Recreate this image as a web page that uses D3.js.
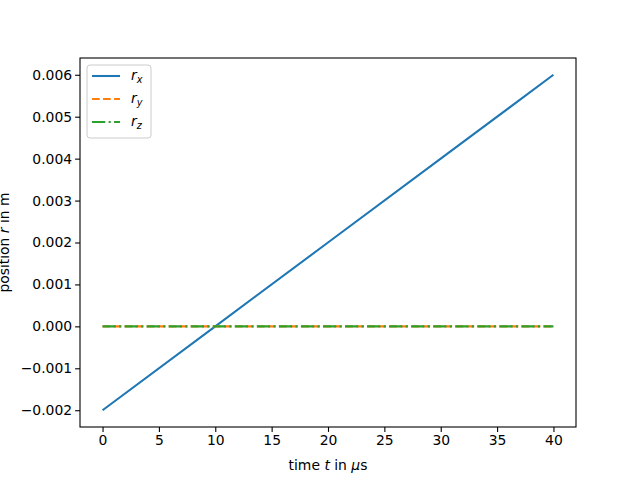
<!DOCTYPE html>
<html>
<head>
<meta charset="utf-8">
<script src="https://cdn.jsdelivr.net/npm/d3@7"></script>
<style>
  body { margin: 0; background: #fff; }
  svg { font-family: "DejaVu Sans", sans-serif; }
</style>
</head>
<body>
<svg id="chart" width="640" height="480"></svg>
<script>
const width = 640;
const height = 480;
const margin = { top: 58, right: 64, bottom: 53, left: 80 };

// time in microseconds and position components in m
const time = [0, 10, 20, 30, 40];
const rx = [-0.002, 0.0, 0.002, 0.004, 0.006];
const ry = [0, 0, 0, 0, 0];
const rz = [0, 0, 0, 0, 0];
const xTicks = [0, 5, 10, 15, 20, 25, 30, 35, 40];
const yTicks = [-0.002, -0.001, 0, 0.001, 0.002, 0.003, 0.004, 0.005, 0.006];

const series = [
    { name: "x", values: rx, color: "#1f77b4", dash: null },
    { name: "y", values: ry, color: "#ff7f0e", dash: "7.7,3.33" },
    { name: "z", values: rz, color: "#2ca02c", dash: "13.3,3.33,2.08,3.33" }
];

const svg = d3.select("#chart");
const innerW = width - margin.left - margin.right;
const innerH = height - margin.top - margin.bottom;

const x = d3.scaleLinear().domain([-2, 42]).range([0, innerW]);
const y = d3.scaleLinear().domain([-0.0024, 0.0064]).range([innerH, 0]);

const g = svg.append("g")
    .attr("transform", `translate(${margin.left}, ${margin.top})`);

// axes
const fmtY = v => d3.format(".3f")(v).replace("-", "\u2212");
const xAxis = d3.axisBottom(x).tickValues(xTicks).tickSize(4.9).tickPadding(3).tickFormat(d3.format("d"));
const yAxis = d3.axisLeft(y).tickValues(yTicks).tickSize(4.9).tickPadding(3).tickFormat(fmtY);

g.append("g")
    .attr("transform", `translate(0, ${innerH})`)
    .call(xAxis)
    .call(s => s.select(".domain").remove());

g.append("g")
    .call(yAxis)
    .call(s => s.select(".domain").remove());

g.selectAll(".tick line").attr("stroke", "#000").attr("stroke-width", 1.1);
g.selectAll(".tick text").attr("fill", "#000").attr("font-size", "13.9px")
    .attr("font-family", "DejaVu Sans");

// lines
const line = d3.line()
    .x((d, i) => x(time[i]))
    .y(d => y(d));

g.append("g")
    .selectAll("path")
    .data(series)
    .enter()
    .append("path")
    .attr("d", d => line(d.values))
    .attr("fill", "none")
    .attr("stroke", d => d.color)
    .attr("stroke-width", 2.08)
    .attr("stroke-dasharray", d => d.dash);

// frame
g.append("rect")
    .attr("width", innerW)
    .attr("height", innerH)
    .attr("fill", "none")
    .attr("stroke", "#000")
    .attr("stroke-width", 1.1);

// axis labels
const xl = svg.append("text")
    .attr("x", margin.left + innerW / 2)
    .attr("y", 470)
    .attr("text-anchor", "middle")
    .attr("font-size", "13.9px");
xl.append("tspan").text("time ");
xl.append("tspan").attr("font-style", "italic").text("t");
xl.append("tspan").text(" in ");
xl.append("tspan").attr("font-style", "italic").text("\u03bc");
xl.append("tspan").text("s");

const yl = svg.append("text")
    .attr("transform", `translate(9, ${margin.top + innerH / 2}) rotate(-90)`)
    .attr("text-anchor", "middle")
    .attr("font-size", "13.9px");
yl.append("tspan").text("position ");
yl.append("tspan").attr("font-style", "italic").text("r");
yl.append("tspan").text(" in m");

// legend
const legend = svg.append("g")
    .attr("transform", `translate(${margin.left + 7}, ${margin.top + 7})`);

legend.append("rect")
    .attr("width", 64)
    .attr("height", 73)
    .attr("rx", 3)
    .attr("fill", "#fff")
    .attr("fill-opacity", 0.8)
    .attr("stroke", "#ccc")
    .attr("stroke-width", 1);

const items = legend.selectAll("g.item")
    .data(series)
    .enter()
    .append("g")
    .attr("class", "item")
    .attr("transform", (d, i) => `translate(0, ${11 + i * 23})`);

items.append("line")
    .attr("x1", 5).attr("x2", 33)
    .attr("stroke", d => d.color)
    .attr("stroke-width", 2.08)
    .attr("stroke-dasharray", d => d.dash);

const lbl = items.append("text")
    .attr("x", 44)
    .attr("y", 4)
    .attr("font-size", "13.9px");
lbl.append("tspan").attr("font-style", "italic").text("r");
lbl.append("tspan").attr("font-style", "italic").attr("font-size", "9.7px")
    .attr("dy", 3).text(d => d.name);
</script>
</body>
</html>
